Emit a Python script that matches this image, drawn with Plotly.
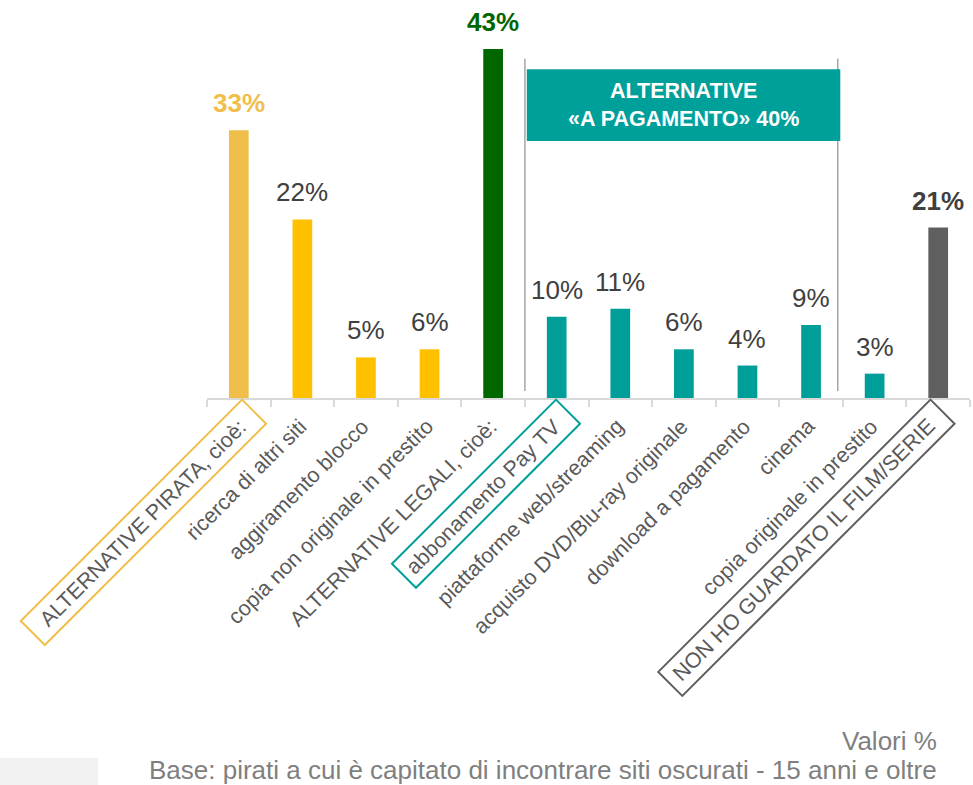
import math
import plotly.graph_objects as go

# Survey data (values in %)
categories = [
    "ALTERNATIVE PIRATA, cioè:",
    "ricerca di altri siti",
    "aggiramento blocco",
    "copia non originale in prestito",
    "ALTERNATIVE LEGALI, cioè:",
    "abbonamento Pay TV",
    "piattaforme web/streaming",
    "acquisto DVD/Blu-ray originale",
    "download a pagamento",
    "cinema",
    "copia originale in prestito",
    "NON HO GUARDATO IL FILM/SERIE",
]
values = [33, 22, 5, 6, 43, 10, 11, 6, 4, 9, 3, 21]

GOLD_LIGHT = "#F0BE4B"
GOLD = "#FFC000"
GREEN = "#006600"
TEAL = "#009E99"
GREY = "#5F5F5F"
bar_colors = [GOLD_LIGHT, GOLD, GOLD, GOLD, GREEN,
              TEAL, TEAL, TEAL, TEAL, TEAL, TEAL, GREY]

# value-label styling: (bold, colour)
label_style = {0: (True, GOLD_LIGHT), 4: (True, GREEN), 11: (True, "#404040")}

FONT = "Liberation Sans, Arial, sans-serif"
TICK_SIZE = 21.5

# Page / plot-area geometry (pixels)
W, H = 973, 785
ML, MR, MT, MB = 207, 3, 10, 387
PW, PH = W - ML - MR, H - MT - MB
AXIS_Y = H - MB
YMAX = 47.8
n = len(categories)


def px(xp):
    return (xp - ML) / PW


def py(yp):
    return (H - MB - yp) / PH


fig = go.Figure()
fig.add_trace(go.Bar(
    x=categories, y=values,
    marker=dict(color=bar_colors, line=dict(width=0)),
    width=0.31,
    hoverinfo="skip",
))

annotations = []
for i, (c, v) in enumerate(zip(categories, values)):
    bold, col = label_style.get(i, (False, "#404040"))
    txt = f"{v}%"
    if bold:
        txt = f"<b>{txt}</b>"
    annotations.append(dict(
        x=c, y=v, xref="x", yref="y", text=txt, showarrow=False,
        yanchor="bottom", yshift=10,
        font=dict(family=FONT, size=26, color=col),
    ))

# slanted category labels: the end of each label sits just under its bar
r2 = math.sqrt(2)
end_dx = {0: 4, 11: -7}          # small horizontal nudges for framed labels
END_Y = AXIS_Y + 25              # vertical position of the label's end point
box_h = TICK_SIZE * 1.117        # text box height of one line
corner = box_h / (2 * r2)        # offset from end point to rotated box corner
label_end = {}
for i, c in enumerate(categories):
    cx = ML + (i + 0.5) * PW / n
    ex, ey = cx + end_dx.get(i, 0), END_Y
    label_end[i] = (ex, ey)
    annotations.append(dict(
        x=c, xref="x", xshift=end_dx.get(i, 0) + corner,
        y=py(ey - corner), yref="paper",
        text=c, textangle=-45, showarrow=False,
        xanchor="right", yanchor="top", borderpad=0, borderwidth=0,
        font=dict(family=FONT, size=TICK_SIZE, color="#595959"),
    ))

# paid-alternatives bracket: two vertical rules and a header box
shapes = []
for xv in (4.5, 9.42):
    shapes.append(dict(type="line", xref="x", yref="y", x0=xv, x1=xv,
                       y0=0.86, y1=41.8,
                       line=dict(color="#A6A6A6", width=1.5)))
shapes.append(dict(type="rect", xref="x", yref="y", x0=4.53, x1=9.46,
                   y0=31.66, y1=40.5, fillcolor="#00A09A",
                   line=dict(width=0), layer="above"))
annotations.append(dict(
    x=6.995, y=(31.66 + 40.5) / 2, xref="x", yref="y",
    text="<b>ALTERNATIVE<br>«A PAGAMENTO» 40%</b>", showarrow=False,
    font=dict(family=FONT, size=21.5, color="white"), align="center",
))

# rotated frames around the three summary category labels
frames = [  # (category index, frame length, colour)
    (0, 313, GOLD_LIGHT),
    (5, 232, "#00A09A"),
    (11, 385, GREY),
]
FRAME_W = 34
for idx, length, col in frames:
    ex, ey = label_end[idx]
    mx, my = ex + 16 / r2, ey - 16 / r2          # middle of the frame's upper end
    hw = FRAME_W / 2 / r2
    lu = length / r2
    pts = [(mx - hw, my - hw), (mx + hw, my + hw),
           (mx + hw - lu, my + hw + lu), (mx - hw - lu, my - hw + lu)]
    path = "M " + " L ".join(f"{px(a):.5f},{py(b):.5f}" for a, b in pts) + " Z"
    shapes.append(dict(type="path", xref="paper", yref="paper", path=path,
                       line=dict(color=col, width=2)))

# light grey tab in the bottom-left corner
shapes.append(dict(type="rect", xref="paper", yref="paper",
                   x0=px(0), x1=px(98), y0=py(785), y1=py(758),
                   fillcolor="#F2F2F2", line=dict(width=0)))

annotations.append(dict(
    x=px(938), y=py(740.5), xref="paper", yref="paper", text="Valori %",
    showarrow=False, xanchor="right", yanchor="middle", borderpad=0,
    font=dict(family=FONT, size=26, color="#7F7F7F"),
))
annotations.append(dict(
    x=px(938), y=py(770), xref="paper", yref="paper",
    text="Base: pirati a cui è capitato di incontrare siti oscurati - 15 anni e oltre",
    showarrow=False, xanchor="right", yanchor="middle", borderpad=0,
    font=dict(family=FONT, size=26, color="#7F7F7F"),
))

fig.update_layout(
    width=W, height=H,
    margin=dict(l=ML, r=MR, t=MT, b=MB, pad=0),
    plot_bgcolor="white", paper_bgcolor="white",
    showlegend=False,
    shapes=shapes, annotations=annotations,
    bargap=0.69,
)
fig.update_xaxes(
    type="category", range=[-0.5, n - 0.5], autorange=False,
    tickson="boundaries", showticklabels=False,
    ticks="outside", ticklen=7, tickwidth=2, tickcolor="#D9D9D9",
    showline=True, linecolor="#D9D9D9", linewidth=2,
    showgrid=False, zeroline=False,
    fixedrange=True,
)
fig.update_yaxes(
    range=[0, YMAX], autorange=False, visible=False, showgrid=False,
    zeroline=False, fixedrange=True,
)

fig.write_html("out.html", config={"displayModeBar": False})
